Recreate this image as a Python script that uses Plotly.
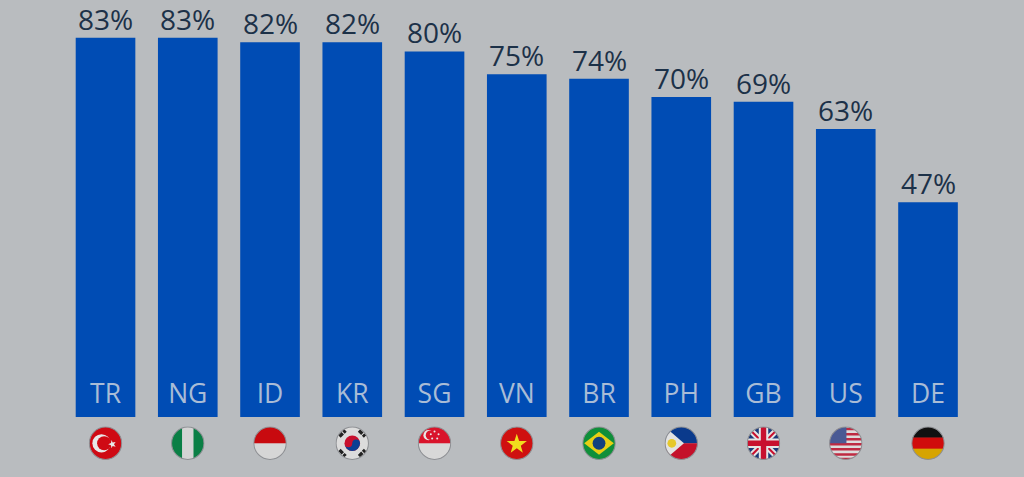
import base64
import plotly.graph_objects as go

codes = ["TR", "NG", "ID", "KR", "SG", "VN", "BR", "PH", "GB", "US", "DE"]
values = [83, 83, 82, 82, 80, 75, 74, 70, 69, 63, 47]

BG = "#b9bcbf"
BAR = "#004cb4"
FONT = "Open Sans"

# flags drawn on a 100x100 box, clipped to a circle
flag_art = {
    "TR": '<rect width="100" height="100" fill="#cf0a14"/><circle cx="38" cy="50" r="27" fill="#e8e8e8"/>'
          '<circle cx="46" cy="50" r="21" fill="#cf0a14"/>'
          '<polygon points="68,40 71,48 80,46 75,53 80,60 71,58 68,65 66,56 58,53 66,49" fill="#e8e8e8"/>',
    "NG": '<rect width="100" height="100" fill="#d4d4d4"/><rect width="33" height="100" fill="#0a7f45"/>'
          '<rect x="67" width="33" height="100" fill="#0a7f45"/>',
    "ID": '<rect width="100" height="100" fill="#d6d6d6"/><rect width="100" height="50" fill="#c80a0f"/>',
    "KR": '<rect width="100" height="100" fill="#dcdcdc"/><circle cx="50" cy="50" r="23" fill="#c8102e"/>'
          '<path d="M27 50a23 23 0 0 0 46 0a11 11 0 0 0 -23 0a11 11 0 0 1 -23 0z" fill="#0b3f94"/>'
          '<g stroke="#222" stroke-width="10" stroke-dasharray="14 3">'
          '<path d="M12 30L30 12"/><path d="M70 12L88 30"/><path d="M12 70L30 88"/><path d="M70 88L88 70"/></g>',
    "SG": '<rect width="100" height="100" fill="#d8d8d8"/><rect width="100" height="50" fill="#d9142b"/>'
          '<circle cx="32" cy="26" r="15" fill="#e8e8e8"/><circle cx="38" cy="26" r="14" fill="#d9142b"/>'
          '<g fill="#e8e8e8"><circle cx="50" cy="15" r="3"/><circle cx="62" cy="23" r="3"/>'
          '<circle cx="58" cy="36" r="3"/><circle cx="43" cy="36" r="3"/><circle cx="39" cy="23" r="3"/></g>',
    "VN": '<rect width="100" height="100" fill="#cf1010"/>'
          '<polygon points="50,22 57,43 80,43 62,57 68,78 50,65 32,78 38,57 20,43 43,43" fill="#f0dc1e"/>',
    "BR": '<rect width="100" height="100" fill="#0f8f3a"/><polygon points="50,16 94,50 50,84 6,50" fill="#e6cf14"/>'
          '<circle cx="50" cy="50" r="19" fill="#12407f"/>',
    "PH": '<rect width="100" height="50" fill="#0a3a8c"/><rect y="50" width="100" height="50" fill="#c4102a"/>'
          '<polygon points="0,0 58,50 0,100" fill="#e2e2e2"/><circle cx="22" cy="50" r="13" fill="#e6c82a"/>',
    "GB": '<rect width="100" height="100" fill="#1c3a78"/>'
          '<path d="M0 0L100 100M100 0L0 100" stroke="#e4e4e4" stroke-width="18"/>'
          '<path d="M0 0L100 100M100 0L0 100" stroke="#c8102e" stroke-width="6"/>'
          '<path d="M50 0V100M0 50H100" stroke="#e4e4e4" stroke-width="28"/>'
          '<path d="M50 0V100M0 50H100" stroke="#c8102e" stroke-width="16"/>',
    "US": '<rect width="100" height="100" fill="#dcdcdc"/>'
          '<path d="M0 8H100M0 23H100M0 38H100M0 53H100M0 68H100M0 83H100M0 97H100" stroke="#bf2a42" stroke-width="7.5"/>'
          '<rect width="52" height="50" fill="#4a5a94"/>',
    "DE": '<rect width="100" height="34" fill="#111"/><rect y="33" width="100" height="34" fill="#d00c0c"/>'
          '<rect y="66" width="100" height="34" fill="#d6a400"/>',
}


def flag_uri(code):
    svg = ('<svg xmlns="http://www.w3.org/2000/svg" viewBox="0 0 100 100" width="100" height="100">'
           '<defs><clipPath id="c"><circle cx="50" cy="50" r="48"/></clipPath></defs>'
           '<g clip-path="url(#c)">' + flag_art[code] + '</g>'
           '<circle cx="50" cy="50" r="48" fill="none" stroke="#8d8f93" stroke-width="3"/></svg>')
    return "data:image/svg+xml;base64," + base64.b64encode(svg.encode()).decode()


fig = go.Figure()

fig.add_trace(go.Bar(
    x=codes,
    y=values,
    width=0.725,
    marker=dict(color=BAR, line=dict(width=0)),
    hoverinfo="skip",
))

# country codes sit a little above the foot of each bar
fig.add_trace(go.Scatter(
    x=codes,
    y=[1.7] * len(codes),
    mode="text",
    text=codes,
    textposition="top center",
    textfont=dict(family=FONT, size=26.5, color="#a9bcd6"),
    hoverinfo="skip",
))

# percent labels as annotations, the bar's own outside text sits too high
for code, v in zip(codes, values):
    fig.add_annotation(
        x=code, y=v, text=f"{v}%",
        showarrow=False,
        yanchor="bottom",
        yshift=-2,
        font=dict(family=FONT, size=28, color="#1c3148"),
    )

for code in codes:
    fig.add_layout_image(
        source=flag_uri(code),
        xref="x", yref="y",
        x=code, y=-5.75,
        sizex=0.41, sizey=7.4,
        xanchor="center", yanchor="middle",
        sizing="contain",
        layer="above",
    )

fig.update_layout(
    width=1024,
    height=477,
    margin=dict(l=0, r=0, t=0, b=0),
    paper_bgcolor=BG,
    plot_bgcolor=BG,
    showlegend=False,
    font=dict(family=FONT),
    xaxis=dict(visible=False, type="category", categoryorder="array", categoryarray=codes,
               range=[-1.283, 11.167]),
    yaxis=dict(visible=False, range=[-13.13, 91.25]),
)

# page margin would push the chart 8px in
fig.write_html("out.html", config=dict(displayModeBar=False),
               post_script="document.body.style.margin='0';document.body.style.overflow='hidden';")
